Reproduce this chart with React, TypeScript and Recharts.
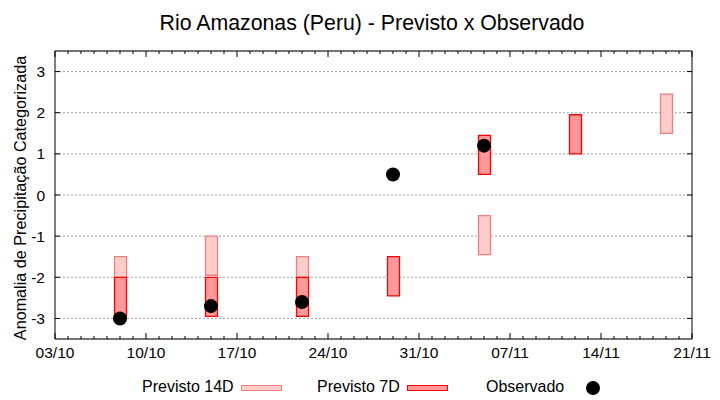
import React from 'react';
import { ComposedChart, Bar, Scatter, XAxis, YAxis, CartesianGrid } from 'recharts';

// ---- data ----
const startDate = '03/10';
const forecastDates = ['08/10', '15/10', '22/10', '29/10', '05/11', '12/11', '19/11'];
const prev14Low: (number | null)[] = [-2, -1.95, -2, null, -1.45, null, 1.5];
const prev14High: (number | null)[] = [-1.5, -1, -1.5, null, -0.5, null, 2.45];
const prev7Low: (number | null)[] = [-2.95, -2.95, -2.95, -2.45, 0.5, 1, null];
const prev7High: (number | null)[] = [-2, -2, -2, -1.5, 1.45, 1.95, null];
const obsDates = ['08/10', '15/10', '22/10', '29/10', '05/11'];
const obsValues = [-3, -2.7, -2.6, 0.5, 1.2];
const xTickLabels = ['03/10', '10/10', '17/10', '24/10', '31/10', '07/11', '14/11', '21/11'];
const yTicks = [-3, -2, -1, 0, 1, 2, 3];

const TITLE = 'Rio Amazonas (Peru) - Previsto x Observado';
const Y_LABEL = 'Anomalia de Precipitação Categorizada';
const LEGEND_14 = 'Previsto 14D';
const LEGEND_7 = 'Previsto 7D';
const LEGEND_OBS = 'Observado';

// ---- helpers ----
const dayOf = (s: string) => {
  const [d, m] = s.split('/').map(Number);
  const [d0, m0] = startDate.split('/').map(Number);
  return (Date.UTC(2021, m - 1, d) - Date.UTC(2021, m0 - 1, d0)) / 86400000;
};
const majorDays = xTickLabels.map(dayOf);
const lastDay = majorDays[majorDays.length - 1];
const allDays = Array.from({ length: lastDay + 1 }, (_, i) => i);
const labelOfDay = (v: number) => {
  const i = majorDays.indexOf(v);
  return i >= 0 ? xTickLabels[i] : '';
};

const barRows = forecastDates.map((d, i) => ({
  day: dayOf(d),
  p14: prev14Low[i] == null ? null : [prev14Low[i], prev14High[i]],
  p7: prev7Low[i] == null ? null : [prev7Low[i], prev7High[i]],
}));
const obsRows = obsDates.map((d, i) => ({ day: dayOf(d), obs: obsValues[i] }));

const FONT = '"Liberation Sans", Arial, sans-serif';
const C14_FILL = '#ffcccc';
const C14_STROKE = '#f08080';
const C7_FILL = '#ff9999';
const C7_STROKE = '#ff0000';

const BottomTick = (props: any) => {
  const { x, y, payload } = props;
  const v = payload.value;
  const major = majorDays.includes(v);
  return (
    <g>
      <line x1={x} x2={x} y1={y} y2={y - (major ? 6 : 3)} stroke="#000" strokeWidth={1} />
      {major && (
        <text x={x} y={y + 19} textAnchor="middle" fontSize={15.5} fontFamily={FONT} fill="#000">
          {labelOfDay(v)}
        </text>
      )}
    </g>
  );
};

const TopTick = (props: any) => {
  const { x, y, payload } = props;
  const major = majorDays.includes(payload.value);
  return <line x1={x} x2={x} y1={y} y2={y + (major ? 6 : 3)} stroke="#000" strokeWidth={1} />;
};

const LeftTick = (props: any) => {
  const { x, y, payload } = props;
  return (
    <g>
      <line x1={x} x2={x + 5} y1={y} y2={y} stroke="#000" strokeWidth={1} />
      <text x={x - 10} y={y + 5.5} textAnchor="end" fontSize={15.5} fontFamily={FONT} fill="#000">
        {payload.value}
      </text>
    </g>
  );
};

const RightTick = (props: any) => {
  const { x, y } = props;
  return <line x1={x} x2={x - 5} y1={y} y2={y} stroke="#000" strokeWidth={1} />;
};

const YLabel = (props: any) => {
  const vb = props.viewBox || {};
  const cx = vb.x + 11;
  const cy = vb.y + vb.height / 2 + 3;
  return (
    <text
      x={cx}
      y={cy}
      transform={`rotate(-90, ${cx}, ${cy})`}
      textAnchor="middle"
      fontSize={16.2}
      fontFamily={FONT}
      fill="#000"
    >
      {Y_LABEL}
    </text>
  );
};

const Dot = (props: any) => {
  const { cx, cy } = props;
  if (cx == null || cy == null) return null;
  return <circle cx={cx} cy={cy} r={7} fill="#000" />;
};

export default function App() {
  return (
    <div style={{ position: 'absolute', left: 0, top: 0, width: 720, height: 400, background: '#fff' }}>
      <ComposedChart
        width={720}
        height={400}
        data={barRows}
        margin={{ top: 50, right: 27, bottom: 31, left: 15 }}
      >
        <CartesianGrid
          vertical={false}
          stroke="#a0a0a0"
          strokeDasharray="2 2"
          xAxisId="bottom"
          yAxisId="left"
        />
        <XAxis
          xAxisId="bottom"
          dataKey="day"
          type="number"
          domain={[0, lastDay]}
          allowDataOverflow
          ticks={allDays}
          interval={0}
          height={30}
          tickSize={0}
          tickMargin={0}
          tickLine={false}
          axisLine={{ stroke: '#000' }}
          tick={(p: any) => <BottomTick {...p} />}
        />
        <XAxis
          xAxisId="top"
          orientation="top"
          dataKey="day"
          type="number"
          domain={[0, lastDay]}
          allowDataOverflow
          ticks={allDays}
          interval={0}
          height={1}
          tickSize={0}
          tickMargin={0}
          tickLine={false}
          axisLine={{ stroke: '#000' }}
          tick={(p: any) => <TopTick {...p} />}
        />
        <YAxis
          yAxisId="left"
          type="number"
          domain={[-3.5, 3.5]}
          allowDataOverflow
          ticks={yTicks}
          interval={0}
          width={40}
          tickSize={0}
          tickMargin={0}
          tickLine={false}
          axisLine={{ stroke: '#000' }}
          tick={(p: any) => <LeftTick {...p} />}
          label={(p: any) => <YLabel {...p} />}
        />
        <YAxis
          yAxisId="right"
          orientation="right"
          type="number"
          domain={[-3.5, 3.5]}
          allowDataOverflow
          ticks={yTicks}
          interval={0}
          width={1}
          tickSize={0}
          tickMargin={0}
          tickLine={false}
          axisLine={{ stroke: '#000' }}
          tick={(p: any) => <RightTick {...p} />}
        />
        <Bar
          xAxisId="bottom"
          yAxisId="left"
          dataKey="p14"
          barSize={12}
          fill={C14_FILL}
          stroke={C14_STROKE}
          strokeWidth={1.3}
          isAnimationActive={false}
        />
        <Bar
          xAxisId="top"
          yAxisId="left"
          dataKey="p7"
          barSize={12}
          fill={C7_FILL}
          stroke={C7_STROKE}
          strokeWidth={1.3}
          isAnimationActive={false}
        />
        <Scatter
          xAxisId="bottom"
          yAxisId="left"
          data={obsRows}
          dataKey="obs"
          shape={(p: any) => <Dot {...p} />}
          isAnimationActive={false}
        />
      </ComposedChart>
      <svg
        width={720}
        height={400}
        style={{ position: 'absolute', left: 0, top: 0, pointerEvents: 'none' }}
      >
        <text x={372} y={30} textAnchor="middle" fontSize={21.3} fontFamily={FONT} fill="#000">
          {TITLE}
        </text>
        <text x={142} y={392} fontSize={16} fontFamily={FONT} fill="#000">
          {LEGEND_14}
        </text>
        <rect x={241.5} y={385.5} width={40} height={5} fill={C14_FILL} stroke={C14_STROKE} />
        <text x={317} y={392} fontSize={16} fontFamily={FONT} fill="#000">
          {LEGEND_7}
        </text>
        <rect x={407.5} y={385.5} width={40} height={5} fill={C7_FILL} stroke={C7_STROKE} />
        <text x={486} y={392} fontSize={16} fontFamily={FONT} fill="#000">
          {LEGEND_OBS}
        </text>
        <circle cx={593} cy={388} r={7} fill="#000" />
      </svg>
    </div>
  );
}
